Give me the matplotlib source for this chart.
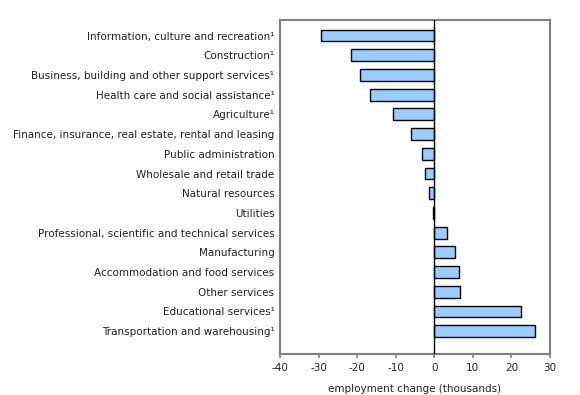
import matplotlib
matplotlib.use("Agg")
import matplotlib.pyplot as plt

categories = [
    "Information, culture and recreation¹",
    "Construction¹",
    "Business, building and other support services¹",
    "Health care and social assistance¹",
    "Agriculture¹",
    "Finance, insurance, real estate, rental and leasing",
    "Public administration",
    "Wholesale and retail trade",
    "Natural resources",
    "Utilities",
    "Professional, scientific and technical services",
    "Manufacturing",
    "Accommodation and food services",
    "Other services",
    "Educational services¹",
    "Transportation and warehousing¹",
]
values = [-29.3, -21.7, -19.3, -16.6, -10.7, -6.0, -3.3, -2.4, -1.4, -0.4,
          3.3, 5.4, 6.5, 6.7, 22.5, 26.2]
xticks = [-40, -30, -20, -10, 0, 10, 20, 30]

plt.rcParams['font.family'] = ['DejaVu Sans']
fig = plt.figure(figsize=(5.8, 3.95), dpi=100)
ax = fig.add_axes([280/580, 1-354/395, 270/580, 334/395])

y = list(range(len(categories)))
ax.barh(y, values, height=0.6, color="#99ccff", edgecolor="black", linewidth=1, zorder=2)
ax.axvline(0, color="black", linewidth=1, zorder=3)

ax.set_xlim(-40, 30)
ax.set_ylim(15 + 1.16, -0.79)
ax.set_yticks(y)
ax.set_yticklabels(categories, fontsize=7.5, color="#222222")
ax.tick_params(axis="y", length=0, pad=4)
ax.set_xticks(xticks)
ax.set_xticklabels([str(t) for t in xticks], fontsize=7.5, color="#222222")
ax.tick_params(axis="x", length=3, color="#808080", width=1.2, direction="out", pad=3.5)
ax.set_xlabel("employment change (thousands)", fontsize=7.5, color="#222222", labelpad=8)
for s in ax.spines.values():
    s.set_color("#808080")
    s.set_linewidth(1.5)

fig.savefig("out.png", dpi=100)
